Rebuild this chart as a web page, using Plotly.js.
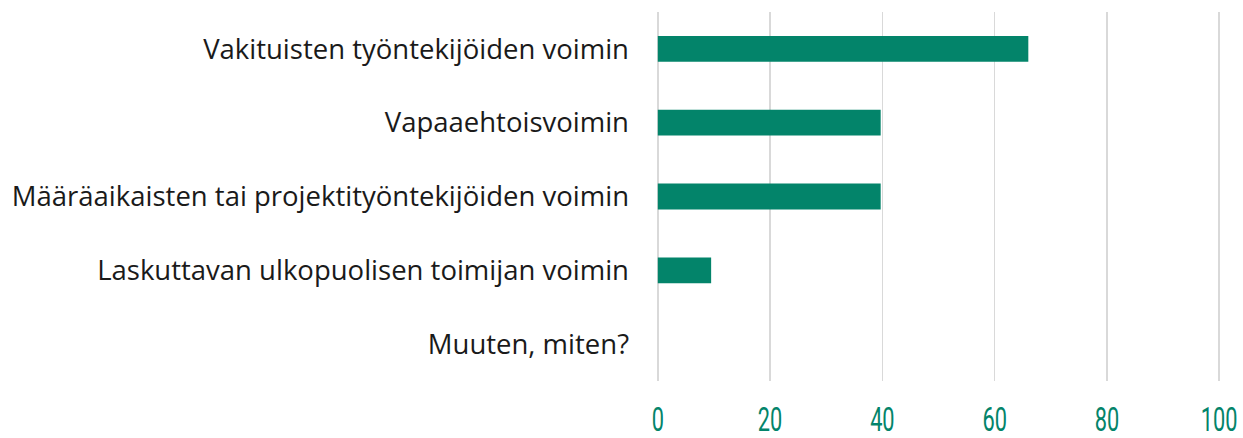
<!DOCTYPE html>
<html><head><meta charset="utf-8">
<script src="https://cdn.plot.ly/plotly-3.0.1.min.js"></script>
<style>html,body{margin:0;padding:0;background:#fff}</style>
</head><body>
<div id="chart" style="width:1243px;height:438px"></div>
<script>
const categories = [
  "Vakituisten työntekijöiden voimin",
  "Vapaaehtoisvoimin",
  "Määräaikaisten tai projektityöntekijöiden voimin",
  "Laskuttavan ulkopuolisen toimijan voimin",
  "Muuten, miten?"
];
const values = [66, 39.7, 39.7, 9.5, 0];
const tickVals = [0, 20, 40, 60, 80, 100];

const trace = {
  type: 'bar',
  orientation: 'h',
  y: categories,
  x: values,
  marker: {color: '#03846A', line: {width: 0}},
  hoverinfo: 'x+y'
};
const layout = {
  width: 1243, height: 438,
  margin: {l: 655, r: 21, t: 12, b: 57},
  paper_bgcolor: '#fff', plot_bgcolor: '#fff',
  bargap: 0.65,
  showlegend: false,
  xaxis: {
    range: [-0.5, 100.5], tickvals: tickVals, ticktext: tickVals.map(String),
    showgrid: true, gridcolor: '#d9d9d9', gridwidth: 1.5,
    zeroline: false, showline: false, ticks: '',
    ticklabelstandoff: 15, ticklabeloverflow: 'allow',
    tickfont: {family: 'Roboto, sans-serif', size: 34, color: '#03846A'}
  },
  yaxis: {
    autorange: 'reversed', showgrid: false, zeroline: false, showline: false, ticks: '',
    ticklabelstandoff: 25,
    tickfont: {family: '"Open Sans", "Noto Sans", sans-serif', size: 27.5, color: '#1a1a1a'}
  }
};
Plotly.newPlot('chart', [trace], layout, {displayModeBar: false, staticPlot: true}).then(gd => {
  // condense the x tick labels horizontally around their own centre
  gd.querySelectorAll('.xtick text').forEach(t => {
    const cx = parseFloat(t.getAttribute('x') || '0');
    const old = t.getAttribute('transform') || '';
    t.setAttribute('transform', `${old} translate(${cx},0) scale(0.64,1) translate(${-cx},0)`);
  });
});
</script>
</body></html>
